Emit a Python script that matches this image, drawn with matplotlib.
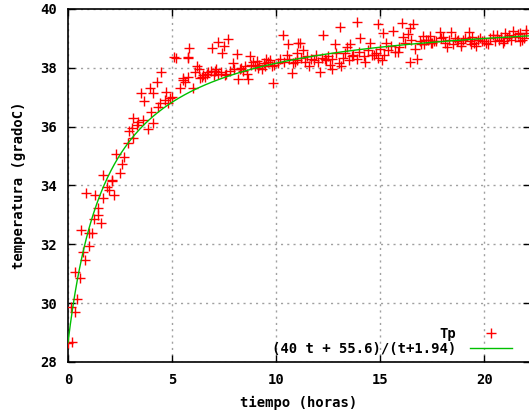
import matplotlib
matplotlib.use("Agg")
import matplotlib.pyplot as plt
import numpy as np

# Measured data points (t in hours, Tp in gradoC)
t_data = [
    0.0, 0.18, 0.13, 0.34, 0.45, 0.34, 0.58, 0.63, 0.74, 0.83,
    1.02, 1.02, 1.14, 1.25, 1.43, 1.46, 1.59, 0.87, 1.30, 1.67,
    1.86, 1.99, 2.10, 2.21, 1.70, 2.10, 2.31, 2.50, 2.58, 2.71,
    3.06, 3.11, 3.14, 3.38, 3.62, 3.86, 3.99, 4.10, 3.51, 3.67,
    3.94, 4.10, 4.26, 4.47, 4.34, 4.42, 4.66, 4.71, 4.90, 5.11,
    5.20, 5.38, 5.54, 5.75, 5.78, 5.54, 5.63, 2.88, 2.95, 3.30,
    4.80, 5.00,
    5.83, 5.79, 6.90, 7.20, 7.50, 7.70, 7.42, 8.11, 8.75, 7.95,
    9.07, 6.03, 6.35, 8.19, 8.67, 9.86, 10.19,
    6.10, 6.30, 6.50, 6.70, 6.85, 7.00, 7.20, 7.35, 7.60, 7.80,
    8.00, 6.20, 6.60, 7.10,
    8.30, 8.50, 8.80, 9.00, 9.20, 9.40, 9.60, 9.80, 8.40, 9.30,
    9.50, 9.70, 9.90, 8.90,
    10.35, 10.59, 11.07, 10.99, 10.75, 11.15, 12.27, 12.84, 13.08, 13.88,
    14.92, 14.04, 14.52, 15.16, 15.64, 13.56, 12.12, 12.68, 15.08, 14.28,
    16.04,
    10.40, 10.60, 10.80, 11.00, 11.20, 11.40, 11.50, 11.70, 11.90, 12.00,
    12.20, 12.40, 12.50, 12.70, 12.90, 13.00, 13.20, 13.30, 13.50, 13.70,
    13.90, 14.00, 14.20, 14.40, 14.60, 14.80, 15.00, 15.20, 15.40, 15.50,
    15.70, 15.90, 11.60, 13.10, 12.60, 14.90, 10.50, 11.30, 13.40, 15.30,
    16.60, 16.44, 16.68, 16.41, 16.76, 16.36, 17.88, 18.40, 19.25, 16.12,
    17.08, 17.40,
    16.20, 16.90, 17.10, 17.30, 17.50, 17.70, 17.90, 18.10, 18.30, 18.50,
    18.70, 18.90, 19.10, 19.30, 19.50, 19.70, 19.90, 20.10, 20.30, 20.50,
    20.70, 20.90, 21.10, 21.30, 21.50, 21.70, 21.90,
    20.60, 21.00, 21.40, 21.70, 22.00, 21.80,
    18.20, 18.90, 19.60, 20.20,
    16.50, 17.20, 17.60, 18.00, 18.60, 19.00, 19.40, 19.80, 20.00, 20.40,
    20.80, 21.20, 21.60, 22.00,
    6.45, 6.75, 7.05, 7.55, 8.25, 8.60, 9.15, 9.45, 10.10, 10.90,
    11.80, 12.35, 13.65, 14.70, 15.85, 16.95, 17.45, 18.75, 19.35, 20.95,
]
Tp_data = [
    28.63, 28.67, 29.87, 29.69, 30.15, 31.07, 30.87, 32.48, 31.75, 31.46,
    31.94, 32.37, 32.37, 32.85, 33.25, 33.00, 32.71, 33.75, 33.67, 33.56,
    33.96, 33.84, 34.15, 33.67, 34.35, 34.18, 35.07, 34.41, 34.73, 34.96,
    35.94, 36.28, 35.60, 36.17, 36.22, 35.91, 36.51, 36.11, 37.13, 36.87,
    37.30, 37.13, 37.53, 37.87, 36.68, 36.79, 36.90, 37.19, 36.96, 38.36,
    38.33, 37.30, 37.59, 37.70, 38.38, 37.64, 37.53, 35.44, 35.85, 36.05,
    36.80, 37.00,
    38.68, 38.34, 38.68, 38.89, 38.74, 38.97, 38.49, 38.46, 38.40, 38.17,
    38.24, 37.30, 37.64, 37.61, 37.61, 37.49, 38.29,
    37.85, 37.95, 37.75, 37.80, 37.90, 37.75, 37.80, 37.85, 37.80, 37.90,
    37.95, 38.05, 37.70, 37.95,
    38.00, 38.05, 38.10, 38.05, 38.10, 38.15, 38.20, 38.05, 37.90, 37.95,
    38.30, 38.25, 38.10, 38.20,
    39.12, 38.80, 38.83, 38.49, 37.83, 38.85, 39.12, 38.81, 39.40, 39.57,
    39.49, 39.02, 38.83, 39.19, 39.26, 38.81, 37.87, 37.95, 38.27, 38.21,
    39.53,
    38.20, 38.30, 38.15, 38.25, 38.35, 38.20, 38.40, 38.30, 38.45, 38.20,
    38.35, 38.25, 38.40, 38.30, 38.50, 38.15, 38.35, 38.50, 38.25, 38.45,
    38.30, 38.55, 38.40, 38.60, 38.45, 38.50, 38.65, 38.45, 38.60, 38.75,
    38.55, 38.70, 38.05, 38.05, 38.10, 38.35, 38.45, 38.60, 38.70, 38.85,
    39.49, 39.34, 38.63, 38.21, 38.29, 39.15, 39.23, 39.23, 39.23, 39.06,
    39.08, 39.08,
    38.85, 38.90, 38.80, 38.95, 38.85, 38.90, 39.00, 38.85, 38.95, 38.80,
    38.90, 38.85, 39.00, 38.90, 38.85, 38.95, 38.90, 38.85, 39.00, 38.90,
    38.95, 38.85, 39.00, 38.95, 39.05, 38.90, 39.00,
    39.10, 39.20, 39.25, 39.20, 39.30, 38.95,
    38.70, 38.75, 38.75, 38.80,
    38.95, 38.95, 38.90, 39.05, 39.00, 38.95, 39.05, 39.00, 38.90, 39.10,
    39.05, 39.10, 39.15, 39.20,
    37.70, 37.85, 37.90, 37.75, 37.95, 37.80, 38.00, 38.05, 38.15, 38.20,
    38.25, 38.30, 38.40, 38.45, 38.55, 38.80, 38.85, 38.95, 38.80, 38.90,
]

# Fitted model parameters
a, b, c = 40.0, 55.6, 1.94
fit_label = "(40 t + 55.6)/(t+1.94)"
data_label = "Tp"

x_ticks = [0, 5, 10, 15, 20]
y_ticks = [28, 30, 32, 34, 36, 38, 40]

plt.rcParams['font.family'] = ['DejaVu Sans Mono']
plt.rcParams['font.weight'] = 'bold'
plt.rcParams['font.size'] = 10

fig = plt.figure(figsize=(5.29, 4.16), dpi=100)
ax = fig.add_axes([68/529, 54/416, (530-68)/529, (362-9)/416])

ax.plot(t_data, Tp_data, linestyle='none', marker='+', color='#ff0000',
        markersize=7, markeredgewidth=1.0, label=data_label, zorder=3)

tt = np.linspace(0, 22.2, 400)
ax.plot(tt, (a*tt + b)/(tt + c), color='#00c000', linewidth=1.0,
        label=fit_label, zorder=4)

ax.set_xlim(0, 22.2)
ax.set_ylim(28, 40)
ax.set_xticks(x_ticks)
ax.set_yticks(y_ticks)
ax.tick_params(direction='in', length=5, width=1, top=True, right=True,
               pad=8, labelsize=10)
for lbl in ax.get_xticklabels() + ax.get_yticklabels():
    lbl.set_fontweight('bold')
ax.grid(True, color='#a0a0a0', linestyle=(0, (1.5, 3)), linewidth=1.0)
for s in ax.spines.values():
    s.set_linewidth(1.2)

ax.set_xlabel("tiempo (horas)", fontweight='bold', labelpad=6)
ax.set_ylabel("temperatura (gradoC)", fontweight='bold', labelpad=10)

leg = ax.legend(loc='lower right', bbox_to_anchor=(0.982, -0.011),
                markerfirst=False, frameon=False, handlelength=3.0,
                labelspacing=0.1, handletextpad=1.0, borderaxespad=0.3,
                prop={'family': 'DejaVu Sans Mono', 'weight': 'bold', 'size': 10})

fig.savefig("out.png", dpi=100)
